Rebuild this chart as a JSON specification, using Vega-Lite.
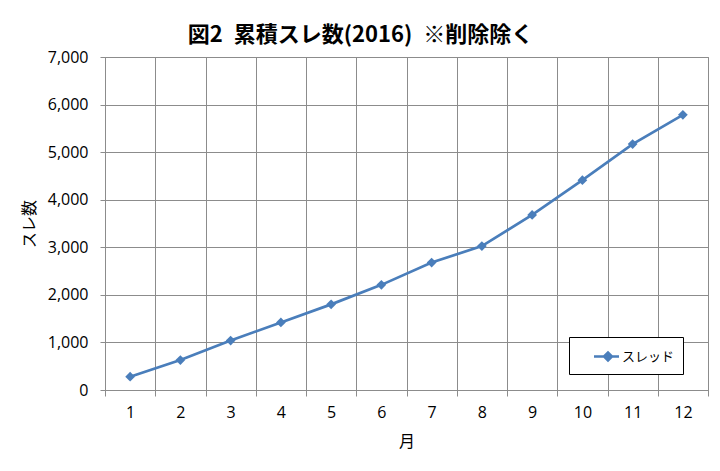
{
  "$schema": "https://vega.github.io/schema/vega-lite/v6.json",
  "autosize": "none",
  "width": 603,
  "height": 333,
  "padding": {"left": 105, "top": 57, "right": 12, "bottom": 81},
  "background": "white",
  "title": {
    "text": "図2\u2002累積スレ数(2016)\u2002※削除除く",
    "font": "Noto Sans CJK JP",
    "fontSize": 22,
    "fontWeight": "bold",
    "color": "black",
    "anchor": "middle",
    "dx": -46,
    "offset": 2
  },
  "data": {
    "values": [
      {"月": 1, "スレ数": 280, "系列": "スレッド"},
      {"月": 2, "スレ数": 630, "系列": "スレッド"},
      {"月": 3, "スレ数": 1040, "系列": "スレッド"},
      {"月": 4, "スレ数": 1420, "系列": "スレッド"},
      {"月": 5, "スレ数": 1800, "系列": "スレッド"},
      {"月": 6, "スレ数": 2210, "系列": "スレッド"},
      {"月": 7, "スレ数": 2680, "系列": "スレッド"},
      {"月": 8, "スレ数": 3025, "系列": "スレッド"},
      {"月": 9, "スレ数": 3680, "系列": "スレッド"},
      {"月": 10, "スレ数": 4410, "系列": "スレッド"},
      {"月": 11, "スレ数": 5170, "系列": "スレッド"},
      {"月": 12, "スレ数": 5785, "系列": "スレッド"}
    ]
  },
  "mark": {"type": "line", "strokeWidth": 2.7, "point": {"shape": "diamond", "size": 95, "filled": true}},
  "encoding": {
    "x": {
      "field": "月",
      "type": "ordinal",
      "scale": {"type": "band", "paddingInner": 0, "paddingOuter": 0},
      "axis": {
        "title": "月",
        "labelAngle": 0,
        "tickBand": "extent",
        "grid": true,
        "gridColor": "#8c8c8c",
        "gridWidth": 1,
        "domainColor": "#8c8c8c",
        "tickColor": "#8c8c8c",
        "tickSize": 6,
        "labelPadding": 8,
        "labelFont": "Open Sans",
        "labelFontSize": 16,
        "labelColor": "black",
        "titleFont": "Noto Sans CJK JP",
        "titleFontSize": 16,
        "titleFontWeight": "normal",
        "titleColor": "black",
        "titlePadding": 13
      }
    },
    "y": {
      "field": "スレ数",
      "type": "quantitative",
      "scale": {"domain": [0, 7000], "nice": false},
      "axis": {
        "title": "スレ数",
        "values": [0, 1000, 2000, 3000, 4000, 5000, 6000, 7000],
        "format": ",d",
        "grid": true,
        "gridColor": "#8c8c8c",
        "gridWidth": 1,
        "domainColor": "#8c8c8c",
        "tickColor": "#8c8c8c",
        "tickSize": 5,
        "labelPadding": 12,
        "labelFont": "Open Sans",
        "labelFontSize": 16,
        "labelColor": "black",
        "titleFont": "Noto Sans CJK JP",
        "titleFontSize": 16,
        "titleFontWeight": "normal",
        "titleColor": "black",
        "titlePadding": 10
      }
    },
    "color": {
      "field": "系列",
      "type": "nominal",
      "scale": {"range": ["#4a7ebb"]},
      "legend": {
        "title": null,
        "orient": "none",
        "legendX": 464,
        "legendY": 280,
        "direction": "vertical",
        "fillColor": "white",
        "strokeColor": "black",
        "padding": 8,
        "symbolType": "M-1.25,0L1.25,0M-0.25,0L0.15,-0.4L0.55,0L0.15,0.4Z",
        "symbolSize": 400,
        "symbolOffset": 18,
        "symbolStrokeWidth": 2.5,
        "symbolFillColor": "#4a7ebb",
        "labelFont": "Noto Sans CJK JP",
        "labelFontSize": 13,
        "labelColor": "black",
        "labelOffset": 4,
        "labelLimit": 200,
        "labelExpr": "datum.label + '\u3000'",
        "rowPadding": 0
      }
    }
  },
  "config": {
    "view": {"stroke": "#8c8c8c", "strokeWidth": 1}
  }
}
